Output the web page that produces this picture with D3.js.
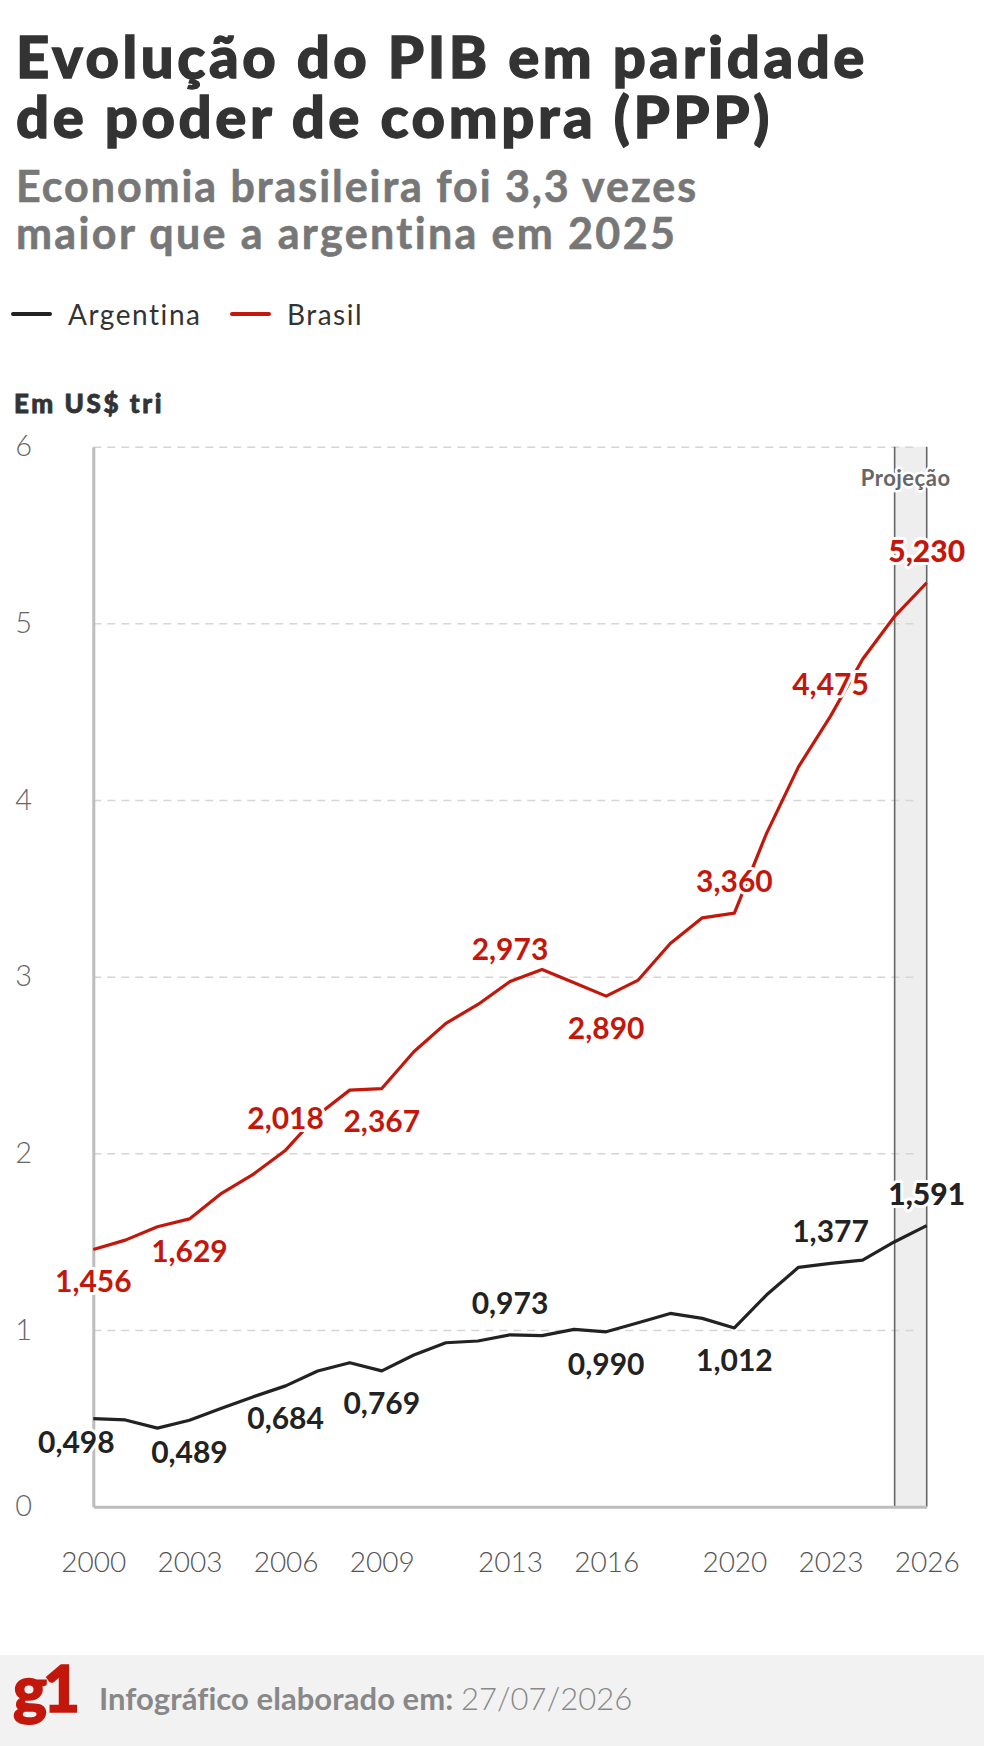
<!DOCTYPE html>
<html><head><meta charset="utf-8">
<script src="https://cdn.jsdelivr.net/npm/d3@7/dist/d3.min.js"></script>
<style>
html,body{margin:0;padding:0;background:#fff;}
svg{display:block;font-family:Lato,"Noto Sans",sans-serif;}
</style></head>
<body>
<svg id="chart" width="984" height="1746"></svg>
<script>
// ---- data ----
const years = d3.range(2000, 2027);
const argentina = [0.498,0.491,0.445,0.489,0.557,0.623,0.684,0.768,0.815,0.769,0.859,0.928,0.938,0.973,0.968,1.004,0.990,1.041,1.094,1.066,1.012,1.198,1.355,1.377,1.396,1.500,1.591];
const brasil = [1.456,1.509,1.585,1.629,1.774,1.883,2.018,2.217,2.358,2.367,2.575,2.736,2.843,2.973,3.041,2.966,2.890,2.981,3.188,3.333,3.360,3.810,4.188,4.475,4.797,5.040,5.230];
const xTickYears = [2000,2003,2006,2009,2013,2016,2020,2023,2026];
const yTicks = [0,1,2,3,4,5,6];
const labelYears = [2000,2003,2006,2009,2013,2016,2020,2023,2026];
const argLabelSide = ["below","below","below","below","above","below","below","above","above"];
const braLabelSide = ["below","below","above","below","above","below","above","above","above"];
const projectionStart = 2025;
const seriesNames = ["Argentina","Brasil"];

const RED = "#c4170c", BLACK = "#222";
const svg = d3.select("#chart");

// stretch text horizontally via letter-spacing to a target width
function fit(sel, target){
  const node = sel.node();
  const w = node.getComputedTextLength();
  const n = node.textContent.length;
  sel.style("letter-spacing", ((target - w)/n) + "px");
  return sel;
}

// ---- header ----
const t1 = svg.append("text").attr("x",16).attr("y",78).attr("fill","#333").attr("stroke","#333").attr("stroke-width",1.3)
  .style("font-size","58px").style("font-weight",900).text("Evolução do PIB em paridade");
fit(t1, 852);
const t2 = svg.append("text").attr("x",16).attr("y",138).attr("fill","#333").attr("stroke","#333").attr("stroke-width",1.3)
  .style("font-size","58px").style("font-weight",900).text("de poder de compra (PPP)");
fit(t2, 757);
const s1 = svg.append("text").attr("x",16).attr("y",202).attr("fill","#777").attr("stroke","#777").attr("stroke-width",0.6)
  .style("font-size","43px").style("font-weight",700).text("Economia brasileira foi 3,3 vezes");
fit(s1, 682);
const s2 = svg.append("text").attr("x",16).attr("y",249).attr("fill","#777").attr("stroke","#777").attr("stroke-width",0.6)
  .style("font-size","43px").style("font-weight",700).text("maior que a argentina em 2025");
fit(s2, 662);

// legend
const legend = [{name:seriesNames[0],color:BLACK,x:13,w:134},{name:seriesNames[1],color:RED,x:232,w:76}];
const lg = svg.append("g");
legend.forEach(l=>{
  lg.append("line").attr("x1",l.x).attr("x2",l.x+37).attr("y1",314).attr("y2",314)
    .attr("stroke",l.color).attr("stroke-width",4).attr("stroke-linecap","round");
  const t = lg.append("text").attr("x",l.x+55).attr("y",325).attr("fill","#333")
    .style("font-size","28px").style("font-weight",400).text(l.name);
  fit(t, l.w);
});

const yl = svg.append("text").attr("x",14).attr("y",413).attr("fill","#333").attr("stroke","#333").attr("stroke-width",0.8)
  .style("font-size","26px").style("font-weight",900).text("Em US$ tri");
fit(yl, 150);

// ---- scales ----
const x = d3.scaleLinear().domain([2000,2026]).range([93.3,926.7]);
const y = d3.scaleLinear().domain([0,6]).range([1506.7,446.7]);

// projection band
svg.append("rect").attr("x",x(projectionStart)).attr("y",y(6))
  .attr("width",x(2026)-x(projectionStart)).attr("height",y(0)-y(6)).attr("fill","#eeeeee");

// gridlines
const grid = svg.append("g").attr("transform",`translate(${x(2000)},0)`)
  .call(d3.axisRight(y).tickValues(yTicks.filter(d=>d>0)).tickSize(x(2026)-x(2000)-8).tickFormat(""));
grid.select(".domain").remove();
grid.selectAll("line").attr("stroke","#d6d6d6").attr("stroke-width",1.5).attr("stroke-dasharray","8,6");

// band edge lines
[projectionStart,2026].forEach(v=>{
  svg.append("line").attr("x1",x(v)).attr("x2",x(v)).attr("y1",y(6)).attr("y2",y(0))
    .attr("stroke","#666").attr("stroke-width",1.6);
});
svg.append("text").attr("x",(x(projectionStart)+x(2026))/2-5).attr("y",486).attr("text-anchor","middle")
  .attr("fill","#666").attr("stroke","#fff").attr("stroke-width",5).attr("paint-order","stroke")
  .style("font-size","22px").style("font-weight",700).style("letter-spacing","0.5px").text("Projeção");

// y axis
const yAxis = svg.append("g").attr("transform",`translate(${x(2000)},0)`)
  .call(d3.axisLeft(y).tickValues(yTicks).tickSize(0).tickFormat(d3.format("d")));
yAxis.select(".domain").attr("stroke","#bdbdbd").attr("stroke-width",3);
yAxis.selectAll("text").attr("x",-78).attr("text-anchor","start").attr("fill","#666")
  .style("font-size","29px").style("font-weight",300).style("font-family","Lato");

// x axis
const xAxis = svg.append("g").attr("transform",`translate(0,${y(0)})`)
  .call(d3.axisBottom(x).tickValues(xTickYears).tickSize(0).tickPadding(45).tickFormat(d3.format("d")));
xAxis.select(".domain").attr("stroke","#bdbdbd").attr("stroke-width",3);
xAxis.selectAll("text").attr("fill","#555")
  .style("font-size","28px").style("font-weight",300).style("font-family","Lato");

// lines
const line = d3.line().x((d,i)=>x(years[i])).y(d=>y(d));
[[argentina,BLACK],[brasil,RED]].forEach(([s,c])=>{
  svg.append("path").datum(s).attr("d",line).attr("fill","none")
    .attr("stroke",c).attr("stroke-width",3.2).attr("stroke-linejoin","round");
});

// value labels
const fmt = v => d3.format(".3f")(v).replace(".",",");
const nudge = {Argentina:{2000:{dx:-17,dy:-9}}};
function labels(series,name,sides,color){
  labelYears.forEach((yr,i)=>{
    const v = series[years.indexOf(yr)];
    const n = (nudge[name]&&nudge[name][yr])||{dx:0,dy:0};
    const last = yr===2026;
    svg.append("text")
      .attr("x",x(yr)+n.dx)
      .attr("y",y(v)+(sides[i]==="above"?-21:43)+n.dy)
      .attr("text-anchor","middle").attr("fill",color)
      .attr("stroke","#fff").attr("stroke-width",6).attr("paint-order","stroke").attr("stroke-linejoin","round")
      .style("font-size","30px").style("font-weight",last?900:700)
      .text(fmt(v));
  });
}
labels(argentina,"Argentina",argLabelSide,BLACK);
labels(brasil,"Brasil",braLabelSide,RED);

// footer
svg.append("rect").attr("x",0).attr("y",1655).attr("width",984).attr("height",91).attr("fill","#f2f2f2");
svg.append("text").attr("x",13).attr("y",1712).attr("fill",RED).attr("stroke",RED).attr("stroke-width",1.5)
  .style("font-size","64px").style("font-weight",900).style("letter-spacing","-4px").text("g1");
const ft = svg.append("text").attr("x",99).attr("y",1710).attr("fill","#888").style("font-size","31px");
ft.append("tspan").style("font-weight",700).text("Infográfico elaborado em: ");
ft.append("tspan").style("font-weight",300).text("27/07/2026");
fit(ft, 533);
</script>
</body></html>
